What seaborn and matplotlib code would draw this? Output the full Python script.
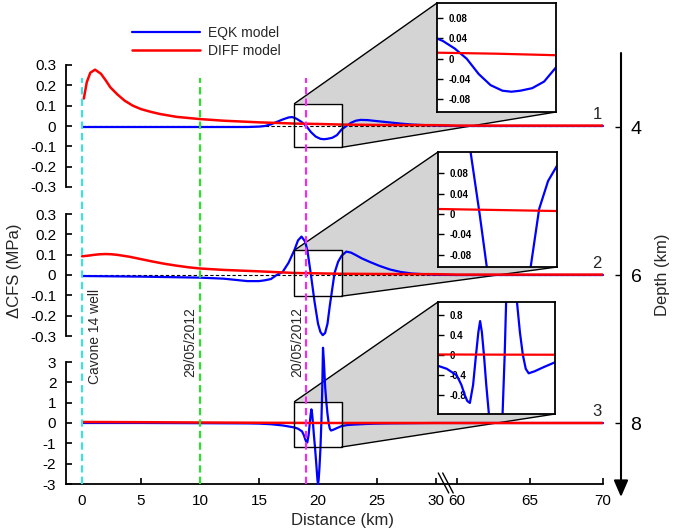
"""Coulomb stress change (ΔCFS) along distance at three depths, EQK vs DIFF model."""
import matplotlib.pyplot as plt
import numpy as np
import seaborn as sns
from matplotlib.lines import Line2D
from matplotlib.patches import Polygon, Rectangle
from matplotlib.ticker import FuncFormatter

W, H = 675, 531

# --- data (distance in km, ΔCFS in MPa) ---
# panel 1 (depth 4 km)
dist_diff_1 = [0.15, 0.4, 0.7, 1.1, 1.6, 2.0, 2.4, 3.0, 3.6, 4.3, 5.0, 5.8, 6.6, 8.0, 10, 12, 15, 18,
               20, 22, 25, 30, 60, 70]
cfs_diff_1 = [0.135, 0.215, 0.262, 0.277, 0.257, 0.225, 0.19, 0.155, 0.125, 0.10, 0.083, 0.07, 0.059,
              0.045, 0.034, 0.026, 0.018, 0.012, 0.010, 0.007, 0.005, 0.004, 0.002, 0.002]
dist_eqk_1 = [0, 5, 10, 14, 15, 15.5, 16, 16.5, 17, 17.5, 17.8, 18.0, 18.2, 18.6, 19.0, 19.4, 19.8, 20.2,
              20.5, 20.8, 21.2, 21.6, 22.0, 22.4, 22.8, 23.2, 23.6, 24.2, 25, 26, 27, 28, 30, 60, 70]
cfs_eqk_1 = [-0.005, -0.005, -0.005, -0.005, -0.003, 0.0, 0.008, 0.02, 0.032, 0.042, 0.044, 0.04, 0.035,
             0.02, 0.0, -0.03, -0.052, -0.063, -0.065, -0.063, -0.058, -0.045, -0.017, 0.0, 0.016, 0.026,
             0.03, 0.029, 0.024, 0.018, 0.012, 0.007, 0.002, 0.0, 0.0]

# panel 2 (depth 6 km)
dist_diff_2 = [0, 0.5, 1.0, 1.5, 2.0, 2.5, 3.0, 4.0, 5.0, 6.0, 7.0, 8.0, 9.0, 10, 12, 15, 18, 20, 22,
               25, 30, 60, 70]
cfs_diff_2 = [0.092, 0.095, 0.099, 0.102, 0.103, 0.102, 0.099, 0.09, 0.078, 0.066, 0.055, 0.046, 0.038,
              0.032, 0.025, 0.018, 0.010, 0.008, 0.006, 0.005, 0.004, 0.002, 0.002]
dist_eqk_2 = [0, 5, 10, 12, 13, 14, 15, 15.5, 16, 16.5, 17, 17.5, 18.0, 18.3, 18.6, 18.9, 19.1, 19.4,
              19.7, 20.0, 20.2, 20.4, 20.6, 20.8, 21.0, 21.2, 21.4, 21.7, 22.0, 22.4, 22.8, 23.2, 23.7,
              24.4, 25.2, 26.1, 27, 28, 30, 60, 70]
cfs_eqk_2 = [-0.005, -0.008, -0.013, -0.018, -0.024, -0.03, -0.03, -0.026, -0.02, 0.0, 0.015, 0.06,
             0.123, 0.17, 0.189, 0.165, 0.12, 0.0, -0.13, -0.24, -0.28, -0.296, -0.285, -0.24, -0.15,
             -0.07, 0.01, 0.065, 0.095, 0.115, 0.11, 0.098, 0.082, 0.064, 0.045, 0.027, 0.015, 0.007,
             0.001, 0.0, 0.0]

# panel 3 (depth 8 km)
dist_diff_3 = [0, 5, 10, 15, 18, 20, 22, 30, 60, 70]
cfs_diff_3 = [0.05, 0.04, 0.025, 0.012, 0.005, 0.002, 0.0, 0.0, 0.0, 0.0]
dist_eqk_3 = [0, 5, 10, 14, 15, 16, 16.5, 17, 17.5, 18.0, 18.3, 18.64, 18.8, 18.92, 19.0, 19.09, 19.2,
              19.3, 19.38, 19.44, 19.5, 19.57, 19.65, 19.74, 19.85, 19.95, 20.0, 20.05, 20.12, 20.2,
              20.28, 20.35, 20.42, 20.5, 20.6, 20.7, 20.8, 20.9, 21.0, 21.1, 21.3, 21.6, 22.0, 22.5,
              23, 24, 25, 26, 28, 30, 60, 70]
cfs_eqk_3 = [0.0, 0.0, -0.01, -0.02, -0.03, -0.06, -0.09, -0.12, -0.17, -0.22, -0.28, -0.41, -0.6,
             -0.81, -0.92, -0.96, -0.6, 0.0, 0.45, 0.67, 0.45, 0.0, -0.6, -1.18, -2.0, -2.8, -3.0, -2.8,
             -2.2, -1.3, 0.0, 1.5, 3.7, 3.0, 1.8, 1.05, 0.45, 0.0, -0.28, -0.37, -0.33, -0.25, -0.15,
             -0.1, -0.08, -0.05, -0.03, -0.02, -0.01, 0.0, 0.0, 0.0]

x_ticks = [0, 5, 10, 15, 20, 25, 30, 60, 65, 70]
y_ticks_small = [-0.3, -0.2, -0.1, 0, 0.1, 0.2, 0.3]
y_ticks_big = [-3, -2, -1, 0, 1, 2, 3]
inset_ticks_small = [-0.08, -0.04, 0, 0.04, 0.08]
inset_ticks_big = [-0.8, -0.4, 0, 0.4, 0.8]
depths = [4, 6, 8]
events = [(0, "#33e6e6", "Cavone 14 well"), (10, "#22e622", "29/05/2012"), (19, "#ff22ff", "20/05/2012")]


def px(x, y):
    """Pixel position (from top-left) -> figure fraction."""
    return (x / W, 1 - y / H)


def box(left, top, right, bottom):
    return [left / W, 1 - bottom / H, (right - left) / W, (bottom - top) / H]


# broken distance axis: 30-60 km squeezed
BREAK_KM = [-100, 30, 60, 200]
BREAK_U = [-100, 30, 31.78, 31.78 + 140 * 1.237]


def fwd(x):
    return np.interp(x, BREAK_KM, BREAK_U)


def inv(u):
    return np.interp(u, BREAK_U, BREAK_KM)


def set_distance_scale(ax):
    ax.set_xscale("function", functions=(fwd, inv))
    ax.set_xlim(-1.36, 70)


sns.set_theme(style="white")
plt.rcParams["font.family"] = ["Liberation Sans", "DejaVu Sans"]
plt.rcParams["axes.unicode_minus"] = False
plt.rcParams["axes.edgecolor"] = "black"
plt.rcParams["axes.linewidth"] = 1.3
plt.rcParams["xtick.color"] = "black"
plt.rcParams["ytick.color"] = "black"

fig = plt.figure(figsize=(W / 100, H / 100), dpi=100)
fmt = FuncFormatter(lambda v, _: f"{v:g}")

panels = [
    dict(top=65, bottom=187, lim=0.3, yt=y_ticks_small, de=dist_eqk_1, ce=cfs_eqk_1, dd=dist_diff_1,
         cd=cfs_diff_1, zoom=(-0.105, 0.11), ibox=(437, 3, 556, 112), it=inset_ticks_small),
    dict(top=214, bottom=336, lim=0.3, yt=y_ticks_small, de=dist_eqk_2, ce=cfs_eqk_2, dd=dist_diff_2,
         cd=cfs_diff_2, zoom=(-0.104, 0.122), ibox=(438, 152, 557, 267), it=inset_ticks_small),
    dict(top=362, bottom=484, lim=3, yt=y_ticks_big, de=dist_eqk_3, ce=cfs_eqk_3, dd=dist_diff_3,
         cd=cfs_diff_3, zoom=(-1.18, 1.05), ibox=(438, 302, 555, 414), it=inset_ticks_big),
]

to_fig = fig.transFigure.inverted()
handles = []
for i, p in enumerate(panels):
    ax = fig.add_axes(box(66, p["top"], 603, p["bottom"]))
    ax.set_facecolor("none")
    set_distance_scale(ax)
    ax.set_ylim(-p["lim"], p["lim"])
    for side in ["top", "right"]:
        ax.spines[side].set_visible(False)
    ax.set_yticks(p["yt"])
    ax.yaxis.set_major_formatter(fmt)
    ax.tick_params(axis="y", direction="in", length=4, width=1.2, pad=7, labelsize=11, left=True)
    if i < 2:
        ax.spines["bottom"].set_visible(False)
        ax.tick_params(axis="x", bottom=False, labelbottom=False)
        ax.hlines(0, 0, 70, colors="black", linestyles=(0, (3, 2)), lw=0.8, zorder=1)
    else:
        ax.set_xticks(x_ticks)
        ax.xaxis.set_major_formatter(fmt)
        ax.tick_params(axis="x", direction="in", length=4, width=1.2, pad=7, labelsize=11, bottom=True)

    sns.lineplot(x=p["de"], y=p["ce"], ax=ax, color="#0000ff", lw=1.6, estimator=None, sort=False,
                 zorder=3, clip_on=False)
    sns.lineplot(x=p["dd"], y=p["cd"], ax=ax, color="#ff0000", lw=1.8, estimator=None, sort=False,
                 zorder=4)
    if i == 0:
        handles = ax.get_lines()[-2:]

    ylo, yhi = p["zoom"]
    ax.add_patch(Rectangle((18, ylo), 4, yhi - ylo, facecolor="none", edgecolor="black", lw=1, zorder=5))
    ax.annotate(str(i + 1), xy=(69.6, 0), xytext=(0, 5), textcoords="offset points", ha="center",
                va="baseline", fontsize=12)

    # zoom inset
    l, t, r, b = p["ibox"]
    iax = fig.add_axes(box(l, t, r, b), zorder=3)
    sns.lineplot(x=p["de"], y=p["ce"], ax=iax, color="#0000ff", lw=1.6, estimator=None, sort=False)
    sns.lineplot(x=p["dd"], y=p["cd"], ax=iax, color="#ff0000", lw=1.6, estimator=None, sort=False)
    iax.set_xlim(18, 22)
    iax.set_ylim(ylo, yhi)
    iax.set_xticks([])
    iax.set_yticks(p["it"])
    iax.yaxis.set_major_formatter(fmt)
    iax.tick_params(axis="y", direction="in", length=4, width=1, pad=-8.5, labelsize=7, left=True)
    for lab in iax.get_yticklabels():
        lab.set_horizontalalignment("left")
        lab.set_fontweight("bold")

    # grey connector between zoom box and inset
    r_tl = to_fig.transform(ax.transData.transform((18, yhi)))
    r_tr = to_fig.transform(ax.transData.transform((22, yhi)))
    r_br = to_fig.transform(ax.transData.transform((22, ylo)))
    i_tl = to_fig.transform(iax.transAxes.transform((0, 1)))
    i_br = to_fig.transform(iax.transAxes.transform((1, 0)))
    fig.add_artist(Polygon([r_tl, i_tl, i_br, r_br, r_tr], closed=True, facecolor="#d4d4d4",
                           edgecolor="none", transform=fig.transFigure, zorder=-2))
    for a, c in [(r_tl, i_tl), (r_br, i_br)]:
        fig.add_artist(Line2D([a[0], c[0]], [a[1], c[1]], color="black", lw=1,
                              transform=fig.transFigure, zorder=-1))

# vertical event lines across all panels
ov = fig.add_axes(box(66, 78, 603, 484), zorder=2)
set_distance_scale(ov)
ov.set_ylim(0, 1)
ov.axis("off")
ov.patch.set_visible(False)
label_pos = {0: (1.1, 0.3645), 10: (9.2, 0.35), 19: (18.2, 0.35)}
for x, color, label in events:
    ov.axvline(x, color=color, lw=1.5, linestyle=(0, (3.5, 2)))
    lx, ly = label_pos[x]
    ov.text(lx, ly, label, rotation=90, ha="center", va="center", fontsize=10)

# axis break marks
for x0 in [438.3, 442.7]:
    fig.add_artist(Line2D([px(x0, 473)[0], px(x0 + 10.5, 493)[0]], [px(x0, 473)[1], px(x0 + 10.5, 493)[1]],
                          color="black", lw=1, transform=fig.transFigure))

# depth axis on the right
dax = fig.add_axes(box(621, 53, 621.5, 497))
dax.set_facecolor("none")
dax.set_ylim(9, 3)
dax.set_xlim(0, 1)
for s in dax.spines.values():
    s.set_visible(False)
dax.set_xticks([])
dax.set_yticks(depths)
dax.tick_params(axis="y", direction="out", length=4.5, width=1, left=True, right=False,
                labelleft=False, labelright=True, pad=2, labelsize=14)
dax.annotate("", xy=(0, 9), xytext=(0, 3), xycoords="data", annotation_clip=False,
             arrowprops=dict(arrowstyle="-|>,head_length=0.67,head_width=0.29", lw=1.5, color="black",
                             shrinkA=0, shrinkB=0, mutation_scale=15))

fig.text(*px(15, 271), "ΔCFS (MPa)", rotation=90, ha="center", va="center", fontsize=12)
fig.text(*px(663, 275), "Depth (km)", rotation=90, ha="center", va="center", fontsize=12)
fig.text(*px(342, 520), "Distance (km)", ha="center", va="center", fontsize=12)

fig.legend(handles=handles, labels=["EQK model", "DIFF model"], loc="upper left",
           bbox_to_anchor=px(132, 26), frameon=False, fontsize=10, handlelength=4.9,
           handletextpad=0.6, labelspacing=0.3, borderpad=0, borderaxespad=0)

fig.savefig("out.png", dpi=100)
